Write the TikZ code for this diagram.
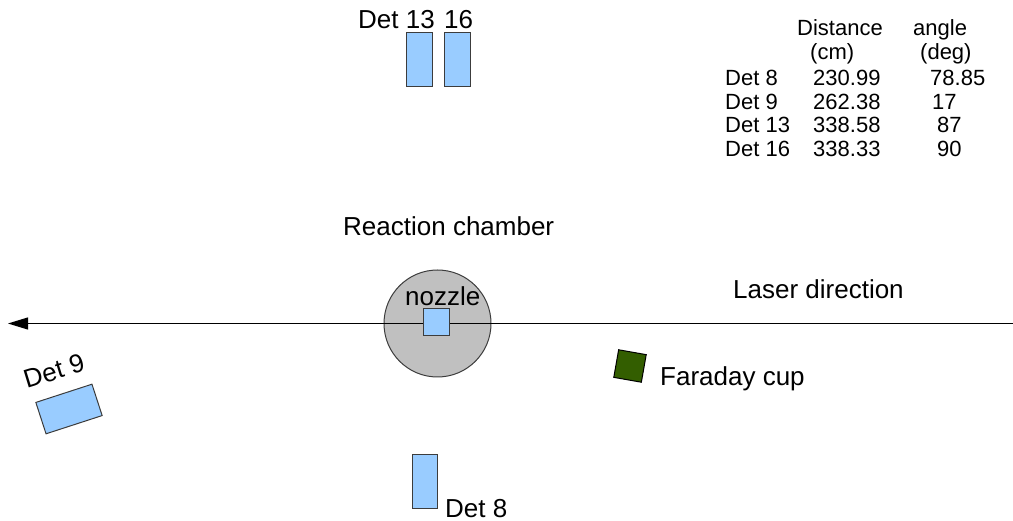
\documentclass[tikz,border=0pt]{standalone}
\usepackage{fontspec}
\setmainfont{Liberation Sans}
\usetikzlibrary{arrows.meta}
\definecolor{detblue}{RGB}{153,204,255}
\definecolor{edgegray}{RGB}{60,60,60}
\definecolor{chambergray}{RGB}{192,192,192}
\definecolor{cupgreen}{RGB}{51,94,0}
\tikzset{
  detbox/.style={draw=edgegray, fill=detblue, line width=1pt, inner sep=0pt},
  lbl/.style={inner sep=0pt, anchor=base west, font=\fontsize{26}{30}\selectfont},
  tbl/.style={inner sep=0pt, anchor=base west, font=\fontsize{22}{26}\selectfont},
}
\begin{document}
\begin{tikzpicture}[x=1pt,y=-1pt]
\useasboundingbox (0,0) rectangle (1013,521);
% chamber
\node[circle, draw=edgegray, fill=chambergray, line width=1pt, minimum size=107pt, inner sep=0pt] (chamber) at (437.5,323.5) {};
% laser line
\coordinate (lstart) at (1013,323.5);
\coordinate (ltip) at (8,323.5);
\draw[line width=1pt, -{Triangle[length=20pt,width=12pt]}] (lstart) -- (ltip);
% nozzle
\node[detbox, minimum width=26pt, minimum height=27pt] (noz) at (436,322.5) {};
\node[lbl] (noztxt) at (405,306) {nozzle};
% detectors
\node[detbox, minimum width=26pt, minimum height=54pt] (d13) at (419.5,60) {};
\node[detbox, minimum width=26pt, minimum height=54pt] (d16) at (457,60) {};
\node[detbox, minimum width=25pt, minimum height=53pt] (d8) at (424.5,481.5) {};
\node[detbox, minimum width=59pt, minimum height=33pt, rotate=18] (d9) at (69,409) {};
\node[draw=black, fill=cupgreen, line width=1pt, minimum size=28pt, inner sep=0pt, rotate=-10] (cup) at (630,366) {};
% labels
\node[lbl] (t13) at (358,29) {Det 13};
\node[lbl] (t16) at (444,29) {16};
\node[lbl] (t8) at (445,518) {Det 8};
\node[inner sep=0pt, rotate=17, font=\fontsize{26}{30}\selectfont] (t9) at (54,371) {Det 9};
\node[lbl] (tcup) at (660,386) {Faraday cup};
\node[lbl] (treact) at (343,236) {Reaction chamber};
\node[lbl] (tlaser) at (733,299) {Laser direction};
% table
\node[tbl] (hdist) at (797,36) {Distance};
\node[tbl] (hang) at (913,36) {angle};
\node[tbl] (hcm) at (810,60) {(cm)};
\node[tbl] (hdeg) at (920,60) {(deg)};
\node[tbl] (r1a) at (725,86) {Det 8};
\node[tbl] (r1b) at (813,86) {230.99};
\node[tbl] (r1c) at (930,86) {78.85};
\node[tbl] (r2a) at (725,110) {Det 9};
\node[tbl] (r2b) at (813,110) {262.38};
\node[tbl] (r2c) at (932,110) {17};
\node[tbl] (r3a) at (725,133) {Det 13};
\node[tbl] (r3b) at (813,133) {338.58};
\node[tbl] (r3c) at (937,133) {87};
\node[tbl] (r4a) at (725,157) {Det 16};
\node[tbl] (r4b) at (813,157) {338.33};
\node[tbl] (r4c) at (937,157) {90};
\end{tikzpicture}
\end{document}
